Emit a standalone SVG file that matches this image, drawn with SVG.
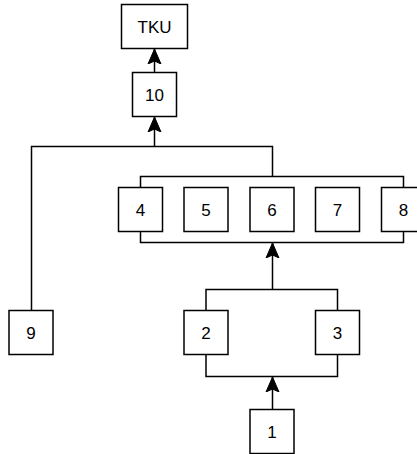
<svg xmlns="http://www.w3.org/2000/svg" width="417" height="454" viewBox="0 0 417 454">
<style>
.box{fill:#fff;stroke:#000;stroke-width:1.5}
.lbl{font-family:"Liberation Sans",Arial,sans-serif;font-size:17px;fill:#000;text-anchor:middle}
.ln{fill:none;stroke:#000;stroke-width:1.5}
</style>
<defs>
<marker id="arr" markerUnits="userSpaceOnUse" markerWidth="16" markerHeight="16" refX="15" refY="7" orient="auto" viewBox="0 0 16 14">
<path d="M15,7 L0,0.5 L3,7 L0,13.5 Z" fill="#000" stroke="#000" stroke-width="1"/>
</marker>
</defs>
<g id="connectors">
<line class="ln" x1="154.5" y1="72.5" x2="154.5" y2="49" marker-end="url(#arr)"/>
<line class="ln" x1="154.5" y1="146.5" x2="154.5" y2="117" marker-end="url(#arr)"/>
<polyline class="ln" points="31.5,310.5 31.5,146.5 272.5,146.5 272.5,176.5"/>
<polyline class="ln" points="140.5,187.5 140.5,176.5 403.5,176.5 403.5,187.5"/>
<polyline class="ln" points="140.5,231.5 140.5,242.5 403.5,242.5 403.5,231.5"/>
<line class="ln" x1="272.5" y1="289.5" x2="272.5" y2="243" marker-end="url(#arr)"/>
<polyline class="ln" points="206,310.5 206,289.5 337.5,289.5 337.5,310.5"/>
<polyline class="ln" points="206,354.5 206,376.5 337.5,376.5 337.5,354.5"/>
<line class="ln" x1="272.5" y1="409.5" x2="272.5" y2="377" marker-end="url(#arr)"/>
</g>
<g id="node-TKU"><rect class="box" x="121.5" y="4.5" width="66" height="44"/><text class="lbl" x="154.5" y="32.5">TKU</text></g>
<g id="node-10"><rect class="box" x="132.5" y="72.5" width="44" height="44"/><text class="lbl" x="154.5" y="100.5">10</text></g>
<g id="node-4"><rect class="box" x="118.5" y="187.5" width="44" height="44"/><text class="lbl" x="140.5" y="215.5">4</text></g>
<g id="node-5"><rect class="box" x="184" y="187.5" width="44" height="44"/><text class="lbl" x="206" y="215.5">5</text></g>
<g id="node-6"><rect class="box" x="250" y="187.5" width="44" height="44"/><text class="lbl" x="272" y="215.5">6</text></g>
<g id="node-7"><rect class="box" x="315.5" y="187.5" width="44" height="44"/><text class="lbl" x="337.5" y="215.5">7</text></g>
<g id="node-8"><rect class="box" x="381.5" y="187.5" width="44" height="44"/><text class="lbl" x="403.5" y="215.5">8</text></g>
<g id="node-9"><rect class="box" x="9" y="310.5" width="44" height="44"/><text class="lbl" x="31" y="338.5">9</text></g>
<g id="node-2"><rect class="box" x="184" y="310.5" width="44" height="44"/><text class="lbl" x="206" y="338.5">2</text></g>
<g id="node-3"><rect class="box" x="315.5" y="310.5" width="44" height="44"/><text class="lbl" x="337.5" y="338.5">3</text></g>
<g id="node-1"><rect class="box" x="250" y="409.5" width="44" height="44"/><text class="lbl" x="272" y="437.5">1</text></g>
</svg>
